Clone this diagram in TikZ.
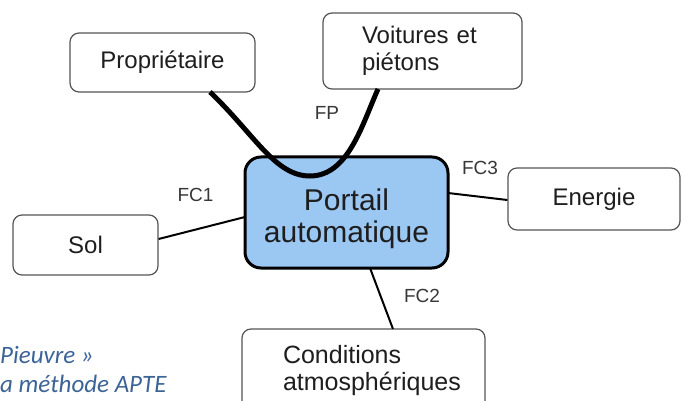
\documentclass[tikz,border=0pt]{standalone}
\usepackage{fontspec}
\setmainfont{Liberation Sans}
\newfontfamily\capfont{Carlito}
\usetikzlibrary{calc}
\definecolor{boxline}{RGB}{85,85,85}
\definecolor{txt}{RGB}{30,30,30}
\definecolor{lbl}{RGB}{55,55,55}
\definecolor{portfill}{RGB}{155,199,243}
\definecolor{captxt}{RGB}{60,100,150}
\tikzset{
  extbox/.style={draw=boxline, line width=1.2pt, rounded corners=9pt, fill=white,
    text=txt, font=\fontsize{24}{27}\selectfont, inner sep=0pt},
  mainbox/.style={draw=black, line width=3pt, rounded corners=16pt, fill=portfill,
    inner sep=0pt, minimum width=203pt, minimum height=111pt},
  maintext/.style={text=txt, font=\fontsize{30}{32}\selectfont, align=center, inner sep=0pt},
  fclabel/.style={text=lbl, font=\fontsize{19}{22}\selectfont, inner sep=0pt},
  link/.style={draw=black, line width=2pt},
  fpcurve/.style={draw=black, line width=5pt},
  captext/.style={text=captxt, font=\capfont\itshape\fontsize{25}{28}\selectfont, inner sep=0pt, anchor=base west}
}
\begin{document}
\begin{tikzpicture}[x=1pt,y=-1pt]
\useasboundingbox (0,0) rectangle (688,401);
\fill[white] (0,0) rectangle (688,401);

% nodes
\node[extbox, minimum width=185pt, minimum height=59pt] (prop) at (162.5,62.5) {\raisebox{-3pt}{Propriétaire}};
\node[extbox, minimum width=199pt, minimum height=76pt, align=left, text width=121pt, inner xsep=39pt] (voit) at (422.5,51) {Voitures et\\piétons};
\node[extbox, minimum width=172pt, minimum height=62pt] (ener) at (594,199) {Energie};
\node[extbox, minimum width=145pt, minimum height=60pt] (sol) at (85.5,245) {Sol};
\node[extbox, font=\fontsize{25}{27}\selectfont, minimum width=243pt, minimum height=83pt, align=left, text width=161pt, inner xsep=41pt] (cond) at (363.5,370.5) {Conditions\\atmosphériques};

% connection points
\coordinate (solR) at ($(sol.east)+(0,-6)$);
\coordinate (porL) at (245,217);
\coordinate (porR) at (448,193);
\coordinate (enerL) at ($(ener.west)+(0,1)$);
\coordinate (porB) at (370,268);
\coordinate (condT) at (393,329);

\draw[link] (solR) -- (porL);
\draw[link] (porR) -- (enerL);
\draw[link] (porB) -- (condT);

\node[mainbox] (port) at (346.5,212.5) {};
\node[maintext] (porttext) at (346.5,219) {Portail\\automatique};

% FP curve
\coordinate (propB) at (210,92);
\coordinate (voitB) at (378,89);
\coordinate (fpBot) at (310,176);
\draw[fpcurve] (propB) .. controls (255,135) and (275,176) .. (fpBot)
  .. controls (348,176) and (362,125) .. (voitB);

% labels
\node[fclabel] (fp) at (327,113) {FP};
\node[fclabel] (fc1) at (195.5,195) {FC1};
\node[fclabel] (fc3) at (480,168) {FC3};
\node[fclabel] (fc2) at (422,296) {FC2};

% caption fragment
\node[captext] (cap1) at (0,363) {Pieuvre »};
\node[captext] (cap2) at (0,392) {a méthode APTE};
\end{tikzpicture}
\end{document}
